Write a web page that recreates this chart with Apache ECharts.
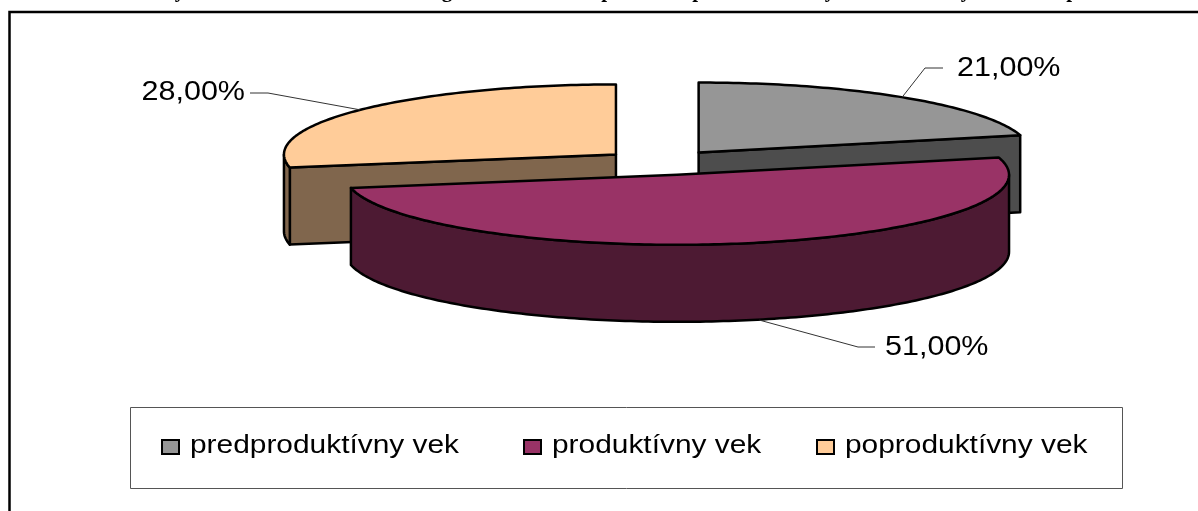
<!DOCTYPE html>
<html>
<head>
<meta charset="utf-8">
<style>
  html, body { margin: 0; padding: 0; background: #fff; overflow: hidden; }
  #chart-ctn { width: 1198px; height: 511px; }
</style>
<script src="https://cdn.jsdelivr.net/npm/echarts@6/dist/echarts.min.js"></script>
</head>
<body>
<div id="chart-ctn"></div>
<script>
// values
var categories = ['predproduktívny vek', 'produktívny vek', 'poproduktívny vek'];
var shares = [21, 51, 28];

// only the descenders of the title survive the crop of the picture
var titleLetters = ['y', 'g', 'p', 'p', 'y', 'y', 'p'];
var titleLetterX = [180, 447, 607, 698, 830, 966, 1072];

var topColors = ['#969696', '#993366', '#ffcc99'];
var sideColors = ['#4d4d4d', '#4d1a33', '#80664d'];

var pie = { cx: 662, cy: 162.5, rx: 332, ry: 70, depth: 77, explode: 0.18 };
var sliceNudge = [0, 2, 0];
// leader: elbow and end of line, then text position
var labelPos = [
  { shift: 0, elbow: [925, 68], end: [943, 68], text: [957, 68], align: 'left' },
  { shift: 10, elbow: [858, 347], end: [875, 347], text: [885, 347], align: 'left' },
  { shift: 0, elbow: [268, 93], end: [250, 93], text: [245, 92], align: 'right' }
];
var legendPos = { box: [130, 407, 992, 81], icon: [162, 524, 817], text: [190, 552, 845], iconY: 440 };
var textStretch = 1.09;
var legendStretch = 1.195;
var sansFont = '"Liberation Sans", Arial, sans-serif';

var total = 0;
shares.forEach(function (v) { total += v; });

// angles are clockwise from the top, in degrees
function ellipsePoint(c, deg, dy) {
  var r = deg * Math.PI / 180;
  return [c[0] + pie.rx * Math.sin(r), c[1] - pie.ry * Math.cos(r) + (dy || 0)];
}

function arcPoints(c, from, to, dy) {
  var pts = [];
  for (var d = from; d < to; d += 1) {
    pts.push(ellipsePoint(c, d, dy));
  }
  pts.push(ellipsePoint(c, to, dy));
  return pts;
}

function sliceShape(idx) {
  var start = 0;
  for (var i = 0; i < idx; i++) {
    start += shares[i] / total * 360;
  }
  var end = start + shares[idx] / total * 360;
  var mid = (start + end) / 2 * Math.PI / 180;
  var c = [
    pie.cx + pie.rx * pie.explode * Math.sin(mid) + sliceNudge[idx],
    pie.cy - pie.ry * pie.explode * Math.cos(mid)
  ];
  return { start: start, end: end, c: c };
}

function lineStyle(fill) {
  return { fill: fill, stroke: '#000', lineWidth: 2.5, lineJoin: 'round' };
}

function radialWall(c, deg, fill) {
  var p = ellipsePoint(c, deg);
  var q = ellipsePoint(c, deg, pie.depth);
  return {
    type: 'polygon',
    shape: { points: [c, p, q, [c[0], c[1] + pie.depth]] },
    style: lineStyle(fill)
  };
}

function renderSlice(idx) {
  return function () {
    var s = sliceShape(idx);
    var kids = [];
    var rad = Math.PI / 180;
    if (Math.sin(s.end * rad) > 0.001) {
      kids.push(radialWall(s.c, s.end, sideColors[idx]));
    }
    if (Math.sin(s.start * rad) < -0.001) {
      kids.push(radialWall(s.c, s.start, sideColors[idx]));
    }
    // outer wall shows only on the front half of the ellipse
    var from = Math.max(s.start, 90);
    var to = Math.min(s.end, 270);
    if (to > from) {
      var wall = arcPoints(s.c, from, to).concat(arcPoints(s.c, from, to, pie.depth).reverse());
      kids.push({ type: 'polygon', shape: { points: wall }, style: lineStyle(sideColors[idx]) });
    }
    kids.push({
      type: 'polygon',
      shape: { points: [s.c].concat(arcPoints(s.c, s.start, s.end)) },
      style: lineStyle(topColors[idx])
    });
    return { type: 'group', children: kids };
  };
}

function renderLabel(idx) {
  return function () {
    var s = sliceShape(idx);
    var mid = (s.start + s.end) / 2;
    var front = mid > 90 && mid < 270;
    var pos = labelPos[idx];
    var anchor = ellipsePoint(s.c, mid, front ? pie.depth : 0);
    anchor[0] += pos.shift;
    return {
      type: 'group',
      children: [
        {
          type: 'polyline',
          shape: { points: [anchor, pos.elbow, pos.end] },
          style: { fill: null, stroke: '#333', lineWidth: 1 }
        },
        {
          type: 'text',
          x: pos.text[0],
          y: pos.text[1],
          scaleX: textStretch,
          style: {
            text: shares[idx].toFixed(2).replace('.', ',') + '%',
            font: '28px ' + sansFont,
            fill: '#000',
            align: pos.align,
            verticalAlign: 'middle'
          }
        }
      ]
    };
  };
}

function buildGraphic() {
  var items = [];
  items.push({
    type: 'rect',
    shape: { x: 9.5, y: 12, width: 1300, height: 700 },
    style: { fill: '#fff', stroke: '#000', lineWidth: 2.5 }
  });
  var b = legendPos.box;
  items.push({
    type: 'rect',
    shape: { x: b[0] + 0.5, y: b[1] + 0.5, width: b[2], height: b[3] },
    style: { fill: '#fff', stroke: '#555', lineWidth: 1 }
  });
  categories.forEach(function (name, i) {
    items.push({
      type: 'rect',
      shape: { x: legendPos.icon[i], y: legendPos.iconY, width: 17, height: 14 },
      style: { fill: topColors[i], stroke: '#000', lineWidth: 2 }
    });
    items.push({
      type: 'text',
      x: legendPos.text[i],
      y: 446,
      scaleX: legendStretch,
      style: { text: name, font: '25px ' + sansFont, fill: '#000', verticalAlign: 'middle' }
    });
  });
  titleLetters.forEach(function (ch, i) {
    items.push({
      type: 'text',
      x: titleLetterX[i],
      y: 2,
      style: {
        text: ch,
        font: 'bold 21px "Liberation Serif", "Times New Roman", serif',
        fill: '#000',
        align: 'center',
        verticalAlign: 'bottom'
      }
    });
  });
  return items;
}

var sliceSeries = [];
categories.forEach(function (name, i) {
  var s = sliceShape(i);
  sliceSeries.push({
    type: 'custom',
    name: name,
    coordinateSystem: 'none',
    silent: true,
    z: (s.start < 180 && s.end > 180) ? 4 : 3,
    data: [shares[i]],
    renderItem: renderSlice(i)
  });
  sliceSeries.push({
    type: 'custom',
    name: name + ' label',
    coordinateSystem: 'none',
    silent: true,
    z: 5,
    data: [shares[i]],
    renderItem: renderLabel(i)
  });
});

var myChart = echarts.init(document.getElementById('chart-ctn'));
myChart.setOption({
  animation: false,
  backgroundColor: '#fff',
  graphic: { elements: buildGraphic() },
  series: sliceSeries
});
</script>
</body>
</html>
